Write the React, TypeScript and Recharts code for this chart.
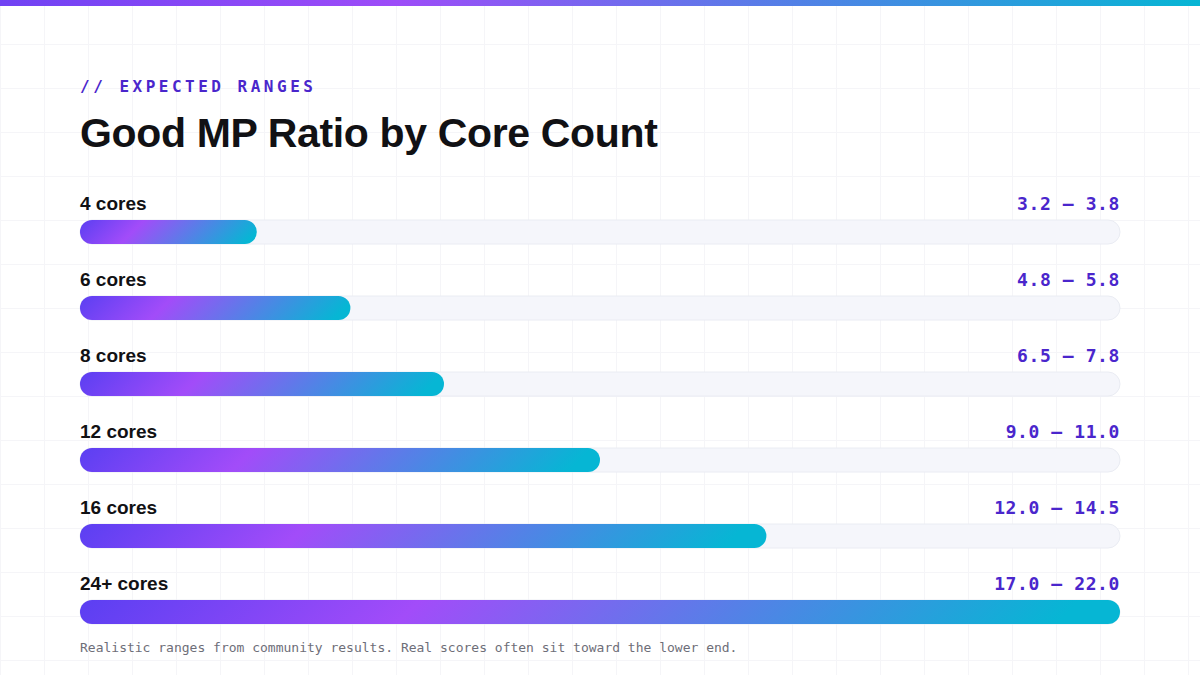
import { Bar, BarChart, LabelList, XAxis, YAxis } from 'recharts'

const CORES = ['4 cores', '6 cores', '8 cores', '12 cores', '16 cores', '24+ cores']
const RANGES = ['3.2 — 3.8', '4.8 — 5.8', '6.5 — 7.8', '9.0 — 11.0', '12.0 — 14.5', '17.0 — 22.0']
// fill length in percent of the track (upper bound / 22)
const FILL_PCT = [17, 26, 35, 50, 66, 100]

const W = 1200
const H = 675
const MARGIN = { top: 194, right: 80, bottom: 25, left: 80 }

const SANS = '"Liberation Sans", Arial, Helvetica, sans-serif'
const MONO = '"DejaVu Sans Mono", monospace'
const ACCENT = '#4a26cc'

const rows = CORES.map((cores, i) => ({ cores, range: RANGES[i], pct: FILL_PCT[i] }))

function GradientBar(props: any) {
  const { x, y, width, height, index } = props
  if (!width || width <= 0) return null
  // css-like 135deg gradient over the bar box
  const d = (width + height) / 4
  const cx = x + width / 2
  const cy = y + height / 2
  const id = `barGrad${index}`
  return (
    <g>
      <defs>
        <linearGradient id={id} gradientUnits="userSpaceOnUse" x1={cx - d} y1={cy - d} x2={cx + d} y2={cy + d}>
          <stop offset="0" stopColor="#5b3ff2" />
          <stop offset="0.32" stopColor="#a24cf9" />
          <stop offset="0.94" stopColor="#06b6d4" />
        </linearGradient>
      </defs>
      <rect x={x} y={y} width={width} height={height} rx={height / 2} ry={height / 2} fill={`url(#${id})`} />
    </g>
  )
}

function CoreLabel(props: any) {
  const vb = props.viewBox || props
  return (
    <text x={vb.x} y={vb.y - 10} fill="#111114" fontFamily={SANS} fontSize={19} fontWeight={700}>
      {props.value}
    </text>
  )
}

function RangeLabel(props: any) {
  const vb = props.viewBox || props
  return (
    <text
      x={W - MARGIN.right}
      y={vb.y - 10}
      textAnchor="end"
      fill={ACCENT}
      fontFamily={MONO}
      fontSize={18}
      fontWeight={700}
      letterSpacing={0.6}
    >
      {props.value}
    </text>
  )
}

export default function App() {
  return (
    <div
      style={{
        position: 'absolute',
        top: 0,
        left: 0,
        width: W,
        height: H,
        overflow: 'hidden',
        backgroundColor: '#ffffff',
        backgroundImage:
          'linear-gradient(to right, #f5f5f8 1px, transparent 1px), linear-gradient(to bottom, #f5f5f8 1px, transparent 1px)',
        backgroundSize: '44px 44px',
      }}
    >
      <div
        style={{
          position: 'absolute',
          top: 0,
          left: 0,
          width: W,
          height: 6,
          background: 'linear-gradient(90deg, #7042f3 0%, #9d4cf8 33%, #06b6d4 100%)',
        }}
      />
      <div
        style={{
          position: 'absolute',
          left: 80,
          top: 78.5,
          fontFamily: MONO,
          fontWeight: 700,
          fontSize: 16,
          lineHeight: '16px',
          letterSpacing: 3.5,
          color: ACCENT,
          whiteSpace: 'nowrap',
        }}
      >
        // EXPECTED RANGES
      </div>
      <div
        style={{
          position: 'absolute',
          left: 80,
          top: 113,
          fontFamily: SANS,
          fontWeight: 700,
          fontSize: 41,
          lineHeight: '41px',
          letterSpacing: -0.35,
          color: '#111114',
          whiteSpace: 'nowrap',
        }}
      >
        Good MP Ratio by Core Count
      </div>

      <div style={{ position: 'absolute', top: 0, left: 0 }}>
        <BarChart width={W} height={H} data={rows} layout="vertical" margin={MARGIN}>
          <XAxis type="number" domain={[0, 100]} hide />
          <YAxis type="category" dataKey="cores" hide />
          <Bar
            dataKey="pct"
            barSize={24}
            isAnimationActive={false}
            background={{ fill: '#f5f6fb', stroke: '#eaecf3', strokeWidth: 1, radius: 12 }}
            shape={GradientBar}
          >
            <LabelList dataKey="cores" content={CoreLabel} />
            <LabelList dataKey="range" content={RangeLabel} />
          </Bar>
        </BarChart>
      </div>

      <div
        style={{
          position: 'absolute',
          left: 80,
          top: 641,
          fontFamily: MONO,
          fontSize: 13,
          lineHeight: '13px',
          color: '#6e6e78',
          whiteSpace: 'nowrap',
        }}
      >
        Realistic ranges from community results. Real scores often sit toward the lower end.
      </div>
    </div>
  )
}
